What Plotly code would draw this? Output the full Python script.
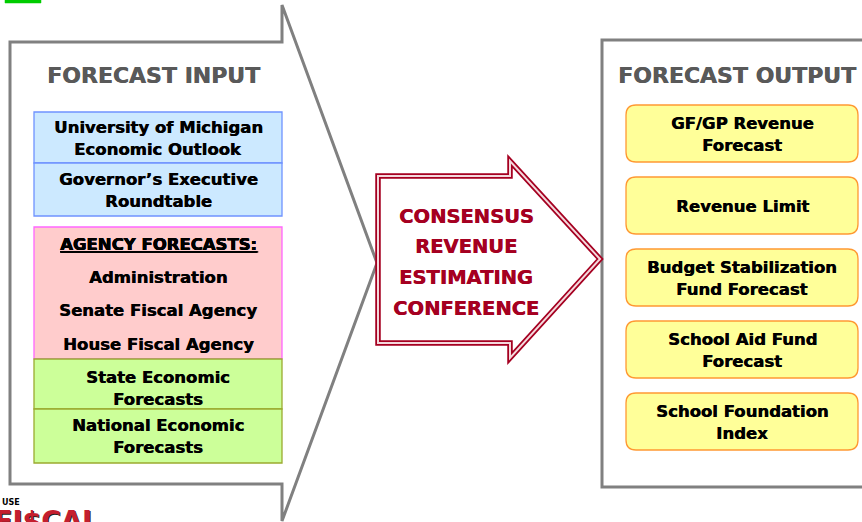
import plotly.graph_objects as go

# ---- text content ----
input_title = "FORECAST INPUT"
output_title = "FORECAST OUTPUT"
center_lines = ["CONSENSUS", "REVENUE", "ESTIMATING", "CONFERENCE"]
blue_labels = [["University of Michigan", "Economic Outlook"],
               ["Governor’s Executive", "Roundtable"]]
agency_header = "AGENCY FORECASTS:"
agency_labels = ["Administration", "Senate Fiscal Agency", "House Fiscal Agency"]
green_labels = [["State Economic", "Forecasts"],
                ["National Economic", "Forecasts"]]
output_labels = [["GF/GP Revenue", "Forecast"],
                 ["Revenue Limit"],
                 ["Budget Stabilization", "Fund Forecast"],
                 ["School Aid Fund", "Forecast"],
                 ["School Foundation", "Index"]]
logo_small = "USE"
logo_big = "FI$CAL"

# ---- layout geometry ----
W, H = 862, 522
FONT = "DejaVu Sans"
GRAY = "#808080"
RED = "#a50021"
LINE_GAP = 22

fig = go.Figure()
fig.add_trace(go.Scatter(x=[], y=[], mode="markers", hoverinfo="skip"))
shapes = []
annots = []


def text(x, y, s, size=16.5, color="black", xanchor="center", yanchor="middle",
         xshift=0, shadow=True):
    font = dict(family=FONT, size=size, color=color)
    if shadow:
        font["shadow"] = f"0.5px 0 0 {color}"
    annots.append(dict(x=x, y=y, xref="x", yref="y", text="<b>" + s + "</b>",
                       showarrow=False, xanchor=xanchor, yanchor=yanchor,
                       xshift=xshift, font=font))


def lines_centered(cx, cy, lines, offset=0):
    n = len(lines)
    for i, s in enumerate(lines):
        text(cx, cy + offset + (i - (n - 1) / 2) * LINE_GAP, s)


def rect(x0, y0, x1, y1, fill, line, width=1.3):
    shapes.append(dict(type="rect", xref="x", yref="y", x0=x0, y0=y0, x1=x1, y1=y1,
                       fillcolor=fill, line=dict(color=line, width=width), layer="above"))


def rrect(x0, y0, x1, y1, r, fill, line, width=1.3):
    p = (f"M {x0+r} {y0} L {x1-r} {y0} Q {x1} {y0} {x1} {y0+r} "
         f"L {x1} {y1-r} Q {x1} {y1} {x1-r} {y1} L {x0+r} {y1} "
         f"Q {x0} {y1} {x0} {y1-r} L {x0} {y0+r} Q {x0} {y0} {x0+r} {y0} Z")
    shapes.append(dict(type="path", xref="x", yref="y", path=p, fillcolor=fill,
                       line=dict(color=line, width=width), layer="above"))


# small green mark top-left
rect(5, -2, 41, 3, "#00cc00", "#00cc00", 0.5)

# left big chevron-arrow panel
shapes.append(dict(type="path", xref="x", yref="y",
                   path="M 10 42 L 282 42 L 282 5 L 377 263 L 282 521 L 282 484 L 10 484 Z",
                   fillcolor="white", line=dict(color=GRAY, width=3), layer="above"))

# right output panel
shapes.append(dict(type="rect", xref="x", yref="y", x0=602, y0=40, x1=880, y1=487,
                   fillcolor="white", line=dict(color=GRAY, width=3), layer="above"))

# titles
text(153, 75, input_title, size=22, color="#595959")
text(737, 75, output_title, size=22, color="#595959")

# input boxes
LX0, LX1 = 34, 282
LCX = (LX0 + LX1) / 2
blue_y = [(112, 163), (163, 216)]
for (y0, y1), lab in zip(blue_y, blue_labels):
    rect(LX0, y0, LX1, y1, "#cce9ff", "#6f93ff")
    lines_centered(LCX, (y0 + y1) / 2, lab, offset=1)

# agency box
rect(LX0, 227, LX1, 359, "#ffcccc", "#ff66ff")
text(LCX, 244, "<u>" + agency_header + "</u>")
for i, s in enumerate(agency_labels):
    text(LCX, 277 + i * 33.5, s)

green_y = [(359, 409), (409, 463)]
green_off = [4, 0]
for (y0, y1), lab, off in zip(green_y, green_labels, green_off):
    rect(LX0, y0, LX1, y1, "#ccff99", "#9aab2f")
    lines_centered(LCX, (y0 + y1) / 2, lab, offset=off)

# output boxes
OX0, OX1 = 626, 858
OCX = (OX0 + OX1) / 2
for k, lab in enumerate(output_labels):
    y0 = 105 + k * 72
    y1 = y0 + 57
    rrect(OX0, y0, OX1, y1, 10, "#ffff99", "#ff9933")
    lines_centered(OCX, (y0 + y1) / 2, lab, offset=0.5)

# center double-line arrow
arrow = "M 378 176 L 510 176 L 510 161 L 600 259 L 510 358 L 510 343 L 378 343 Z"
shapes.append(dict(type="path", xref="x", yref="y", path=arrow, fillcolor="white",
                   line=dict(color=RED, width=5.5), layer="above"))
shapes.append(dict(type="path", xref="x", yref="y", path=arrow,
                   line=dict(color="#f4d8dc", width=2), layer="above"))
for i, s in enumerate(center_lines):
    text(466, 216 + i * 30.7, s, size=19.5, color=RED)

# logo bottom-left (cut off by the page edge)
text(0, 502, logo_small, size=8, xanchor="left", shadow=False)
annots.append(dict(x=0, y=503, xref="x", yref="y", text="<b>" + logo_big + "</b>",
                   showarrow=False, xanchor="left", yanchor="top", xshift=-8,
                   font=dict(family=FONT, size=27, color="#c41e2e",
                             shadow="1px 1px 0 #222")))

fig.update_layout(width=W, height=H, margin=dict(l=0, r=0, t=0, b=0),
                  paper_bgcolor="white", plot_bgcolor="white",
                  xaxis=dict(range=[0, W], visible=False, fixedrange=True),
                  yaxis=dict(range=[H, 0], visible=False, fixedrange=True),
                  showlegend=False, shapes=shapes, annotations=annots)

fig.write_html("out.html", config={"displayModeBar": False},
               post_script="document.body.style.margin='0px';"
                           "document.body.style.overflow='hidden';")
